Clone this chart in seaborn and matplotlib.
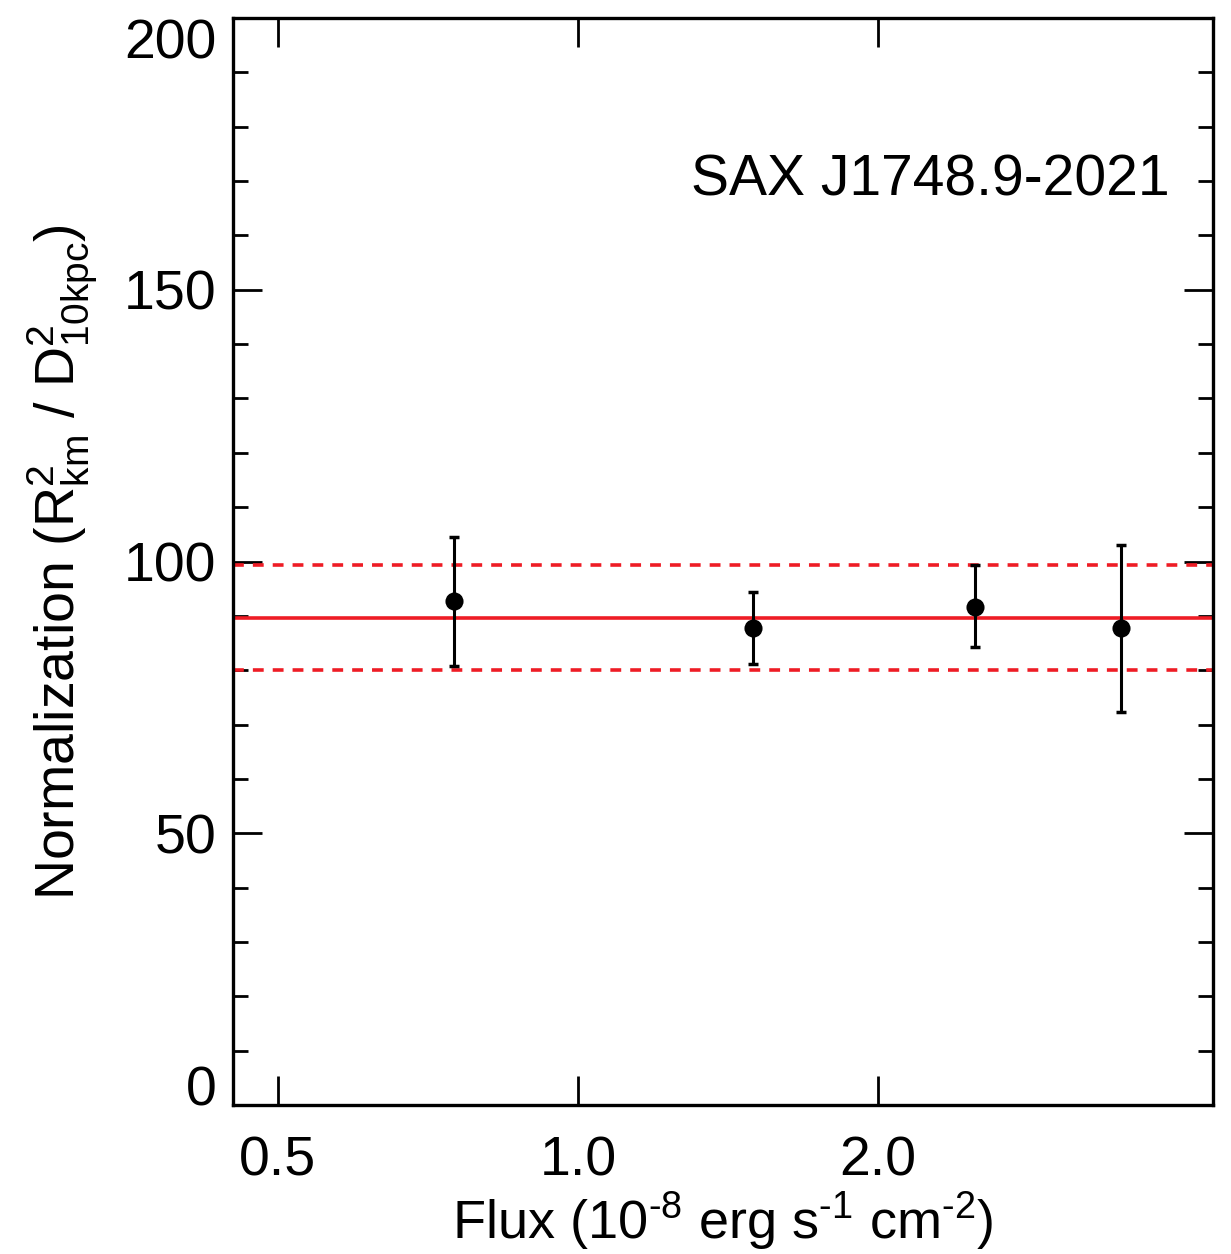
import matplotlib
matplotlib.use("Agg")
import matplotlib.pyplot as plt
import seaborn as sns
import numpy as np
import pandas as pd
from matplotlib.ticker import FixedLocator, MultipleLocator, NullLocator, NullFormatter

flux = [0.751, 1.50, 2.50, 3.51]
norm = [92.7, 87.7, 91.6, 87.7]
norm_hi = [104.6, 94.4, 99.3, 103.1]
norm_lo = [80.8, 81.1, 84.2, 72.4]
mean_norm = 89.7
band_hi = 99.4
band_lo = 80.1
xticks = [0.5, 1.0, 2.0]
xticklabels = ["0.5", "1.0", "2.0"]
source = "SAX J1748.9-2021"

sns.set_theme(style="ticks")
plt.rcParams['font.family'] = ['Liberation Sans', 'DejaVu Sans']
plt.rcParams['mathtext.fontset'] = 'custom'
plt.rcParams['mathtext.rm'] = 'Liberation Sans'
plt.rcParams['mathtext.it'] = 'Liberation Sans'
for k in ['text.color', 'axes.labelcolor', 'xtick.color', 'ytick.color', 'axes.edgecolor']:
    plt.rcParams[k] = 'black'

df = pd.DataFrame({"flux": flux, "norm": norm})
fig = plt.figure(figsize=(12.31, 12.54), dpi=100)
ax = fig.add_axes([0.1893, 0.1188, 0.7961, 0.8668])

ax.set_xscale("log")
ax.set_xlim(0.4507, 4.337)
ax.set_ylim(0, 200)

ax.axhline(mean_norm, color="#ee1c25", lw=2.6, zorder=1)
ax.axhline(band_hi, color="#ee1c25", lw=2.6, ls=(0, (3, 2.5)), zorder=1)
ax.axhline(band_lo, color="#ee1c25", lw=2.6, ls=(0, (3, 2.5)), zorder=1)

yerr = np.array([np.array(norm) - np.array(norm_lo), np.array(norm_hi) - np.array(norm)])
ax.errorbar(flux, norm, yerr=yerr, fmt="none", ecolor="black", elinewidth=2.2,
            capsize=3.5, capthick=2.5, zorder=2)
sns.scatterplot(data=df, x="flux", y="norm", ax=ax, color="black", s=170,
                edgecolor="black", linewidth=0, zorder=3)

ax.xaxis.set_major_locator(FixedLocator(xticks))
ax.set_xticklabels(xticklabels)
ax.xaxis.set_minor_locator(NullLocator())
ax.xaxis.set_minor_formatter(NullFormatter())
ax.yaxis.set_major_locator(MultipleLocator(50))
ax.yaxis.set_minor_locator(MultipleLocator(10))

ax.tick_params(axis="both", which="major", direction="in", length=21, width=2.0,
               top=True, right=True, labelsize=40, pad=12)
ax.tick_params(axis="both", which="minor", direction="in", length=11, width=2.0,
               top=True, right=True)
ax.tick_params(axis="x", which="major", pad=22)
for s in ax.spines.values():
    s.set_linewidth(2.4)
    s.set_color("black")

hy = "\u2010"
ax.set_xlabel("Flux (10$^{" + hy + "8}$ erg s$^{" + hy + "1}$ cm$^{" + hy + "2}$)",
              fontsize=39, labelpad=2)
ax.set_ylabel(r"Normalization (R$^{2}_{km}$ / D$^{2}_{10kpc}$)", fontsize=40, labelpad=18)

ax.text(0.956, 0.851, source, transform=ax.transAxes, ha="right", va="center",
        fontsize=41, color="black")

fig.canvas.draw()
yticks_major = ax.yaxis.get_major_ticks()
locs = ax.yaxis.get_majorticklocs()
for t, v in zip(yticks_major, locs):
    if np.isclose(v, 200):
        t.label1.set_verticalalignment("top")
    elif np.isclose(v, 0):
        t.label1.set_verticalalignment("baseline")

fig.savefig("out.png", dpi=100)
